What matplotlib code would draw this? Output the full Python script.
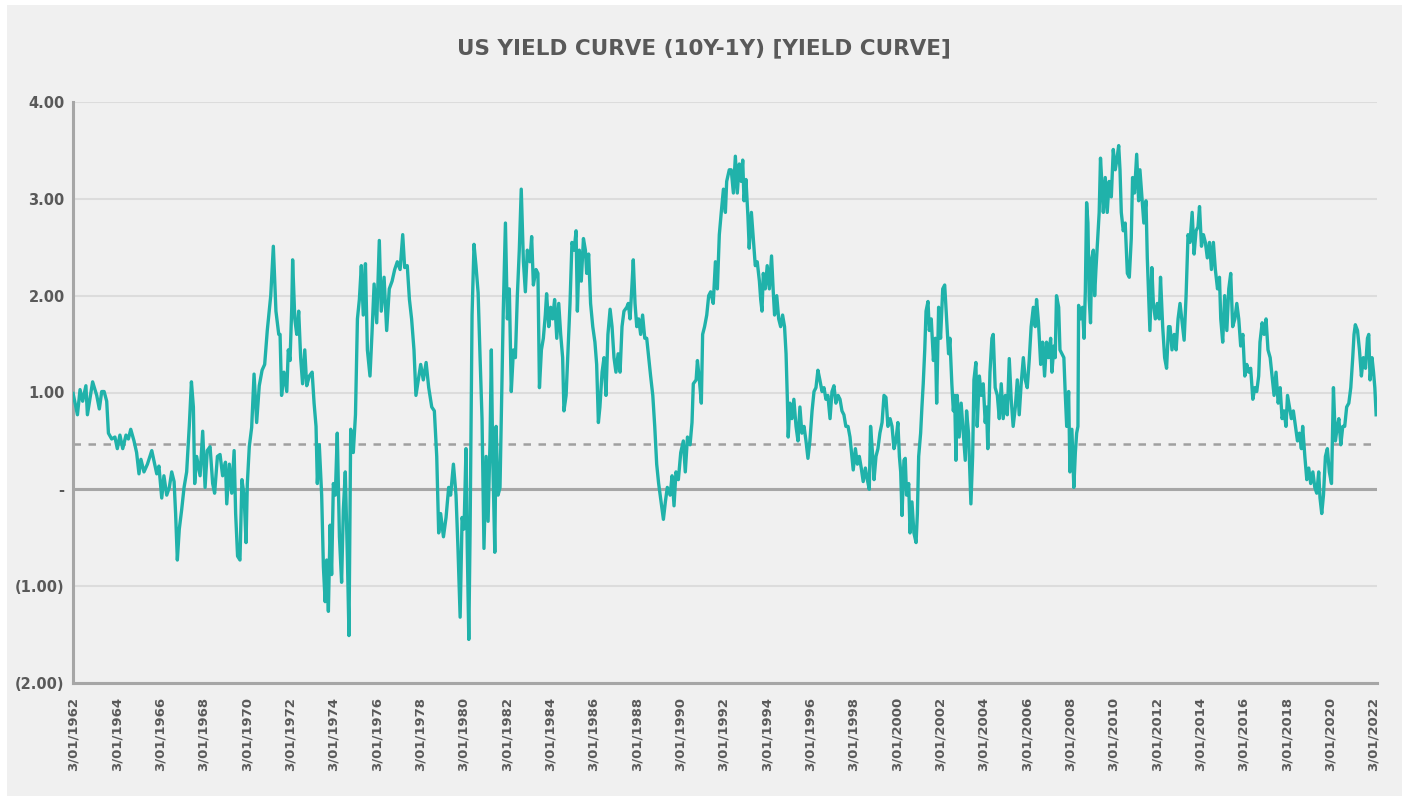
import matplotlib
matplotlib.use('Agg')
import matplotlib.pyplot as plt
from matplotlib.patches import Rectangle
from matplotlib.ticker import FuncFormatter

# (decimal year, 10Y-1Y spread in %), one list per period
spread_1962_1971 = [
    (1961.99, 0.99), (1962.19, 0.77), (1962.31, 1.03), (1962.43, 0.91), (1962.58, 1.07), (1962.65, 0.77),
    (1962.89, 1.11), (1963.08, 0.97), (1963.20, 0.83), (1963.31, 1.01), (1963.42, 1.01), (1963.54, 0.91),
    (1963.62, 0.58), (1963.77, 0.52), (1963.92, 0.54), (1964.03, 0.42), (1964.15, 0.56), (1964.28, 0.42),
    (1964.43, 0.56), (1964.54, 0.52), (1964.65, 0.62), (1964.80, 0.50), (1964.92, 0.38), (1965.03, 0.16),
    (1965.12, 0.31), (1965.26, 0.18), (1965.42, 0.26), (1965.62, 0.40), (1965.85, 0.16), (1965.95, 0.24),
    (1966.08, -0.09), (1966.18, 0.14), (1966.31, -0.06), (1966.43, 0.02), (1966.54, 0.18), (1966.65, 0.08),
    (1966.72, -0.25), (1966.80, -0.73), (1966.89, -0.41), (1967.00, -0.21), (1967.11, 0.02), (1967.23, 0.18),
    (1967.35, 0.65), (1967.45, 1.11), (1967.54, 0.85), (1967.60, 0.06), (1967.69, 0.34), (1967.85, 0.14),
    (1967.97, 0.60), (1968.08, 0.02), (1968.18, 0.40), (1968.31, 0.44), (1968.43, 0.06), (1968.52, -0.04),
    (1968.65, 0.34), (1968.77, 0.36), (1968.89, 0.14), (1969.02, 0.28), (1969.08, -0.15), (1969.20, 0.26),
    (1969.31, -0.04), (1969.42, 0.40), (1969.49, -0.25), (1969.58, -0.69), (1969.69, -0.73), (1969.78, 0.10),
    (1969.88, -0.06), (1969.97, -0.55), (1970.03, 0.06), (1970.12, 0.44), (1970.23, 0.64), (1970.34, 1.19),
    (1970.46, 0.69), (1970.58, 1.07), (1970.71, 1.23), (1970.83, 1.29), (1970.95, 1.64), (1971.11, 2.00),
    (1971.23, 2.51), (1971.35, 1.84), (1971.48, 1.60),
]

spread_1971_1981 = [
    (1971.54, 1.60), (1971.61, 0.97), (1971.72, 1.21), (1971.85, 1.01), (1971.92, 1.44), (1972.00, 1.33),
    (1972.08, 1.88), (1972.12, 2.37), (1972.22, 1.76), (1972.31, 1.60), (1972.40, 1.84), (1972.49, 1.36),
    (1972.58, 1.09), (1972.68, 1.44), (1972.77, 1.07), (1972.89, 1.17), (1973.02, 1.21), (1973.11, 0.89),
    (1973.20, 0.65), (1973.26, 0.06), (1973.35, 0.46), (1973.46, -0.06), (1973.54, -0.80), (1973.62, -1.16),
    (1973.69, -0.73), (1973.77, -1.26), (1973.85, -0.37), (1973.92, -0.88), (1974.00, 0.06), (1974.09, -0.06),
    (1974.18, 0.58), (1974.28, -0.49), (1974.38, -0.96), (1974.46, -0.21), (1974.55, 0.18), (1974.65, -0.73),
    (1974.72, -1.51), (1974.80, 0.62), (1974.92, 0.38), (1975.02, 0.77), (1975.11, 1.76), (1975.20, 1.96),
    (1975.29, 2.31), (1975.38, 1.80), (1975.48, 2.33), (1975.57, 1.44), (1975.69, 1.17), (1975.78, 1.60),
    (1975.88, 2.12), (1976.00, 1.72), (1976.12, 2.57), (1976.21, 1.84), (1976.34, 2.19), (1976.46, 1.64),
    (1976.58, 2.07), (1976.71, 2.15), (1976.83, 2.27), (1976.95, 2.35), (1977.08, 2.27), (1977.20, 2.63),
    (1977.29, 2.29), (1977.41, 2.31), (1977.51, 1.96), (1977.61, 1.76), (1977.72, 1.44), (1977.81, 0.97),
    (1977.92, 1.13), (1978.03, 1.29), (1978.15, 1.13), (1978.28, 1.31), (1978.40, 1.05), (1978.54, 0.85),
    (1978.66, 0.81), (1978.77, 0.34), (1978.86, -0.45), (1978.95, -0.25), (1979.08, -0.49), (1979.20, -0.29),
    (1979.32, 0.02), (1979.41, -0.06), (1979.54, 0.26), (1979.66, -0.06), (1979.75, -0.61), (1979.85, -1.32),
    (1979.94, -0.29), (1980.03, -0.41), (1980.12, 0.42), (1980.18, -0.61), (1980.25, -1.55), (1980.31, -0.41),
    (1980.40, 1.80), (1980.49, 2.53), (1980.58, 2.31), (1980.68, 2.03), (1980.77, 1.36), (1980.86, 0.73),
    (1980.95, -0.61), (1981.05, 0.34), (1981.14, -0.33), (1981.23, 0.50), (1981.29, 1.44), (1981.35, 0.38),
    (1981.45, -0.65), (1981.51, 0.65), (1981.60, -0.06),
]

spread_1981_1992 = [
    (1981.69, 0.02), (1981.77, 0.97), (1981.84, 1.84), (1981.94, 2.75), (1982.03, 1.76), (1982.12, 2.07),
    (1982.21, 1.01), (1982.31, 1.44), (1982.40, 1.36), (1982.49, 2.00), (1982.58, 2.47), (1982.67, 3.10),
    (1982.77, 2.35), (1982.86, 2.04), (1982.95, 2.47), (1983.07, 2.35), (1983.15, 2.61), (1983.23, 2.11),
    (1983.35, 2.27), (1983.44, 2.23), (1983.51, 1.05), (1983.60, 1.44), (1983.69, 1.56), (1983.78, 1.80),
    (1983.84, 2.02), (1983.94, 1.68), (1984.03, 1.88), (1984.12, 1.76), (1984.21, 1.96), (1984.31, 1.56),
    (1984.40, 1.92), (1984.49, 1.60), (1984.58, 1.36), (1984.64, 0.81), (1984.74, 0.97), (1984.83, 1.44),
    (1984.92, 1.92), (1985.01, 2.55), (1985.11, 2.47), (1985.20, 2.67), (1985.26, 1.84), (1985.35, 2.47),
    (1985.44, 2.15), (1985.54, 2.59), (1985.63, 2.47), (1985.69, 2.23), (1985.78, 2.43), (1985.87, 1.92),
    (1985.97, 1.68), (1986.07, 1.52), (1986.15, 1.29), (1986.23, 0.69), (1986.30, 0.85), (1986.40, 1.21),
    (1986.49, 1.36), (1986.58, 0.97), (1986.67, 1.60), (1986.77, 1.86), (1986.86, 1.68), (1986.95, 1.36),
    (1987.04, 1.21), (1987.14, 1.40), (1987.23, 1.21), (1987.32, 1.68), (1987.41, 1.84), (1987.54, 1.88),
    (1987.61, 1.92), (1987.69, 1.76), (1987.77, 2.07), (1987.84, 2.37), (1987.92, 1.92), (1988.00, 1.68),
    (1988.09, 1.76), (1988.18, 1.60), (1988.27, 1.80), (1988.37, 1.56), (1988.46, 1.56), (1988.55, 1.36),
    (1988.64, 1.17), (1988.74, 0.97), (1988.83, 0.65), (1988.92, 0.26), (1989.01, 0.06), (1989.10, -0.09),
    (1989.23, -0.31), (1989.32, -0.13), (1989.41, 0.02), (1989.54, -0.06), (1989.63, 0.14), (1989.72, -0.17),
    (1989.81, 0.18), (1989.92, 0.10), (1990.03, 0.38), (1990.15, 0.50), (1990.24, 0.18), (1990.34, 0.54),
    (1990.46, 0.46), (1990.55, 0.69), (1990.61, 1.09), (1990.74, 1.13), (1990.80, 1.33), (1990.89, 1.13),
    (1990.98, 0.89), (1991.04, 1.60), (1991.13, 1.68), (1991.23, 1.80), (1991.32, 2.00), (1991.41, 2.04),
    (1991.53, 1.92), (1991.63, 2.35), (1991.72, 2.07), (1991.81, 2.63), (1991.90, 2.86), (1992.00, 3.10),
    (1992.09, 2.86), (1992.15, 3.18), (1992.27, 3.30),
]

spread_1992_2002 = [
    (1992.36, 3.30), (1992.46, 3.06), (1992.55, 3.44), (1992.64, 3.06), (1992.73, 3.36), (1992.82, 3.18),
    (1992.89, 3.40), (1992.95, 2.98), (1993.04, 3.20), (1993.13, 2.82), (1993.19, 2.49), (1993.29, 2.86),
    (1993.38, 2.59), (1993.47, 2.31), (1993.56, 2.35), (1993.66, 2.15), (1993.72, 1.96), (1993.78, 1.84),
    (1993.84, 2.23), (1993.93, 2.07), (1994.02, 2.31), (1994.12, 2.07), (1994.22, 2.41), (1994.30, 2.04),
    (1994.36, 1.80), (1994.46, 2.00), (1994.55, 1.76), (1994.64, 1.68), (1994.73, 1.80), (1994.82, 1.68),
    (1994.89, 1.40), (1994.95, 0.93), (1994.99, 0.54), (1995.07, 0.89), (1995.16, 0.73), (1995.25, 0.93),
    (1995.35, 0.65), (1995.44, 0.50), (1995.53, 0.85), (1995.62, 0.58), (1995.72, 0.65), (1995.81, 0.50),
    (1995.90, 0.32), (1995.99, 0.50), (1996.09, 0.81), (1996.18, 1.01), (1996.27, 1.05), (1996.36, 1.23),
    (1996.45, 1.13), (1996.55, 1.01), (1996.64, 1.05), (1996.73, 0.93), (1996.82, 0.97), (1996.92, 0.73),
    (1997.01, 1.01), (1997.10, 1.07), (1997.19, 0.89), (1997.29, 0.97), (1997.38, 0.93), (1997.47, 0.81),
    (1997.56, 0.77), (1997.65, 0.65), (1997.75, 0.65), (1997.84, 0.54), (1997.93, 0.34), (1997.99, 0.20),
    (1998.09, 0.42), (1998.18, 0.26), (1998.27, 0.34), (1998.36, 0.22), (1998.45, 0.08), (1998.55, 0.22),
    (1998.64, 0.10), (1998.73, 0.00), (1998.79, 0.65), (1998.89, 0.34), (1998.95, 0.10), (1999.04, 0.34),
    (1999.13, 0.42), (1999.22, 0.58), (1999.32, 0.69), (1999.41, 0.97), (1999.50, 0.95), (1999.59, 0.65),
    (1999.69, 0.73), (1999.78, 0.65), (1999.87, 0.42), (1999.96, 0.50), (2000.05, 0.69), (2000.12, 0.34),
    (2000.18, 0.18), (2000.24, -0.27), (2000.33, 0.30), (2000.39, 0.32), (2000.45, -0.06), (2000.55, 0.06),
    (2000.61, -0.45), (2000.70, -0.13), (2000.79, -0.45), (2000.89, -0.55), (2000.95, -0.25), (2001.01, 0.34),
    (2001.10, 0.58), (2001.16, 0.85), (2001.22, 1.09), (2001.29, 1.44), (2001.35, 1.84), (2001.44, 1.94),
    (2001.50, 1.64), (2001.59, 1.76), (2001.69, 1.33), (2001.78, 1.56), (2001.84, 0.89), (2001.93, 1.88),
    (2002.02, 1.56), (2002.12, 2.07), (2002.21, 2.11), (2002.30, 1.76), (2002.39, 1.40),
]

spread_2002_2012 = [
    (2002.45, 1.56), (2002.54, 1.09), (2002.61, 0.81), (2002.67, 0.97), (2002.73, 0.30), (2002.79, 0.97),
    (2002.88, 0.54), (2002.97, 0.89), (2003.07, 0.58), (2003.16, 0.30), (2003.22, 0.81), (2003.31, 0.58),
    (2003.37, 0.18), (2003.42, -0.15), (2003.50, 0.34), (2003.56, 1.13), (2003.65, 1.31), (2003.71, 0.65),
    (2003.81, 1.17), (2003.90, 0.97), (2003.99, 1.09), (2004.08, 0.69), (2004.14, 0.85), (2004.20, 0.42),
    (2004.30, 1.21), (2004.39, 1.56), (2004.45, 1.60), (2004.54, 1.05), (2004.64, 0.97), (2004.73, 0.73),
    (2004.82, 1.09), (2004.91, 0.73), (2005.01, 0.97), (2005.10, 0.77), (2005.19, 1.35), (2005.28, 0.93),
    (2005.37, 0.65), (2005.47, 0.85), (2005.56, 1.13), (2005.65, 0.77), (2005.74, 1.09), (2005.84, 1.36),
    (2005.93, 1.13), (2006.02, 1.05), (2006.11, 1.33), (2006.20, 1.68), (2006.30, 1.88), (2006.39, 1.68),
    (2006.45, 1.96), (2006.54, 1.72), (2006.64, 1.29), (2006.73, 1.52), (2006.82, 1.17), (2006.91, 1.52),
    (2007.00, 1.36), (2007.10, 1.56), (2007.16, 1.21), (2007.25, 1.48), (2007.31, 1.36), (2007.37, 2.00),
    (2007.47, 1.88), (2007.53, 1.44), (2007.62, 1.40), (2007.71, 1.36), (2007.77, 1.01), (2007.84, 0.65),
    (2007.93, 1.01), (2007.99, 0.18), (2008.08, 0.62), (2008.17, 0.02), (2008.24, 0.38), (2008.30, 0.58),
    (2008.36, 0.65), (2008.39, 1.90), (2008.48, 1.76), (2008.57, 1.88), (2008.64, 1.56), (2008.70, 2.04),
    (2008.76, 2.96), (2008.82, 2.75), (2008.88, 1.96), (2008.94, 1.72), (2009.00, 2.39), (2009.07, 2.47),
    (2009.13, 2.00), (2009.19, 2.27), (2009.28, 2.63), (2009.34, 2.86), (2009.40, 3.42), (2009.47, 3.14),
    (2009.53, 2.86), (2009.62, 3.22), (2009.71, 2.86), (2009.80, 3.18), (2009.90, 3.02), (2009.99, 3.51),
    (2010.08, 3.30), (2010.14, 3.38), (2010.24, 3.55), (2010.30, 3.30), (2010.36, 2.86), (2010.45, 2.67),
    (2010.54, 2.75), (2010.64, 2.23), (2010.73, 2.19), (2010.82, 2.59), (2010.88, 3.22), (2010.97, 3.06),
    (2011.07, 3.46), (2011.16, 2.98), (2011.22, 3.30), (2011.31, 3.02), (2011.40, 2.75), (2011.50, 2.98),
    (2011.56, 2.39), (2011.62, 2.00), (2011.68, 1.64), (2011.77, 2.29), (2011.84, 1.92), (2011.93, 1.76),
    (2012.02, 1.92), (2012.11, 1.76), (2012.17, 2.19), (2012.27, 1.68), (2012.36, 1.36), (2012.45, 1.25),
    (2012.54, 1.68),
]

spread_2012_2022 = [
    (2012.61, 1.68), (2012.70, 1.44), (2012.80, 1.60), (2012.89, 1.44), (2012.98, 1.76), (2013.07, 1.92),
    (2013.17, 1.72), (2013.26, 1.54), (2013.35, 2.00), (2013.44, 2.63), (2013.53, 2.55), (2013.63, 2.86),
    (2013.72, 2.43), (2013.81, 2.67), (2013.90, 2.71), (2013.97, 2.92), (2014.06, 2.51), (2014.15, 2.63),
    (2014.24, 2.55), (2014.33, 2.39), (2014.43, 2.55), (2014.52, 2.27), (2014.61, 2.55), (2014.70, 2.27),
    (2014.80, 2.07), (2014.89, 2.19), (2014.95, 1.76), (2015.04, 1.52), (2015.13, 2.00), (2015.23, 1.64),
    (2015.32, 2.07), (2015.41, 2.23), (2015.50, 1.68), (2015.60, 1.76), (2015.69, 1.92), (2015.78, 1.76),
    (2015.87, 1.48), (2015.97, 1.60), (2016.06, 1.17), (2016.15, 1.29), (2016.24, 1.21), (2016.33, 1.25),
    (2016.43, 0.93), (2016.52, 1.05), (2016.61, 1.01), (2016.70, 1.17), (2016.76, 1.52), (2016.86, 1.72),
    (2016.95, 1.60), (2017.04, 1.76), (2017.13, 1.44), (2017.23, 1.36), (2017.32, 1.17), (2017.41, 0.97),
    (2017.50, 1.21), (2017.60, 0.89), (2017.69, 1.05), (2017.78, 0.73), (2017.87, 0.81), (2017.96, 0.65),
    (2018.03, 0.97), (2018.12, 0.85), (2018.21, 0.73), (2018.30, 0.81), (2018.40, 0.65), (2018.49, 0.50),
    (2018.58, 0.58), (2018.67, 0.42), (2018.73, 0.65), (2018.83, 0.34), (2018.92, 0.10), (2019.01, 0.22),
    (2019.10, 0.06), (2019.20, 0.18), (2019.29, 0.02), (2019.38, -0.04), (2019.47, 0.18), (2019.53, -0.09),
    (2019.61, -0.25), (2019.69, -0.06), (2019.78, 0.34), (2019.87, 0.42), (2019.96, 0.18), (2020.06, 0.06),
    (2020.15, 1.05), (2020.24, 0.50), (2020.33, 0.65), (2020.40, 0.73), (2020.49, 0.46), (2020.58, 0.65),
    (2020.67, 0.65), (2020.76, 0.85), (2020.86, 0.89), (2020.95, 1.05), (2021.04, 1.36), (2021.10, 1.60),
    (2021.16, 1.70), (2021.26, 1.64), (2021.35, 1.44), (2021.44, 1.17), (2021.53, 1.36), (2021.63, 1.25),
    (2021.72, 1.56), (2021.78, 1.60), (2021.84, 1.13), (2021.93, 1.36), (2022.00, 1.21), (2022.06, 1.05),
    (2022.12, 0.77),
]

# long-run reference level (dashed line)
reference_level = 0.47

tick_years = list(range(1962, 2023, 2))
tick_labels = [f"3/01/{y}" for y in tick_years]
y_ticks = [-2, -1, 0, 1, 2, 3, 4]

title = "US YIELD CURVE (10Y-1Y) [YIELD CURVE]"

# combine the periods
all_points = (spread_1962_1971 + spread_1971_1981 + spread_1981_1992 +
              spread_1992_2002 + spread_2002_2012 + spread_2012_2022)
years = [p[0] for p in all_points]
values = [p[1] for p in all_points]

TEAL = '#20B2AA'
GREY_TEXT = '#595959'
AXIS_GREY = '#a6a6a6'
BG = '#f0f0f0'

fig = plt.figure(figsize=(14.07, 7.96), dpi=100)
fig.patch.set_facecolor('white')
bg_rect = Rectangle((7 / 1407, 0), 1395 / 1407, 791 / 796, transform=fig.transFigure,
                    facecolor=BG, edgecolor='none', zorder=-10)
fig.add_artist(bg_rect)

ax = fig.add_axes([73 / 1407, 1 - 683 / 796, 1304 / 1407, 581 / 796])
ax.patch.set_alpha(0)

ax.plot(years, values, color=TEAL, linewidth=2.4, solid_joinstyle='round', zorder=4)
ax.axhline(0, color=AXIS_GREY, linewidth=2.2, zorder=3)
ax.axhline(reference_level, color='#a0a0a0', linewidth=1.8, linestyle=(0, (3, 3)), zorder=2)

ax.set_ylim(-2, 4)
ax.set_xlim(1961.985, 2022.16)
ax.set_yticks(y_ticks)
ax.grid(axis='y', color='#dcdcdc', linewidth=1.5, zorder=1)
ax.set_axisbelow(True)


def fmt(v, pos):
    if abs(v) < 1e-9:
        return '-'
    if v < 0:
        return f"({abs(v):.2f})"
    return f"{v:.2f}"


ax.yaxis.set_major_formatter(FuncFormatter(fmt))
ax.set_xticks(tick_years)
ax.set_xticklabels(tick_labels, rotation=90)

for lab in ax.get_yticklabels():
    lab.set_fontweight('bold')
    lab.set_color(GREY_TEXT)
    lab.set_fontsize(10.5)
for lab in ax.get_xticklabels():
    lab.set_fontweight('bold')
    lab.set_color(GREY_TEXT)
    lab.set_fontsize(9.5)

ax.tick_params(axis='both', length=0)
ax.tick_params(axis='y', pad=6)
ax.tick_params(axis='x', pad=10)

for side in ['top', 'right']:
    ax.spines[side].set_visible(False)
for side in ['left', 'bottom']:
    ax.spines[side].set_color(AXIS_GREY)
    ax.spines[side].set_linewidth(2.2)

fig.text(0.5, 1 - 48 / 796, title, ha='center', va='center', fontsize=15.5,
         fontweight='bold', color=GREY_TEXT)

fig.savefig('out.png', dpi=100, facecolor=fig.get_facecolor())
